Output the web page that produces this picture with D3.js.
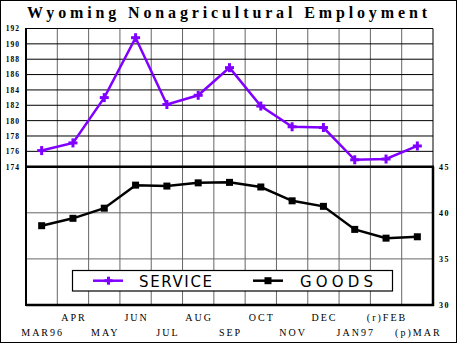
<!DOCTYPE html>
<html><head><meta charset="utf-8">
<script src="https://cdn.jsdelivr.net/npm/d3@7"></script>
<style>body{margin:0;background:#fff}svg{display:block}</style>
</head><body>
<svg id="c" width="457" height="343"></svg>
<script>
const months = ["MAR96","APR","MAY","JUN","JUL","AUG","SEP","OCT","NOV","DEC","JAN97","(r)FEB","(p)MAR"];
const service = [176.1,177.1,183.0,190.8,182.1,183.3,186.9,181.9,179.2,179.1,174.9,175.0,176.7];
const goods = [38.6,39.4,40.5,43.0,42.9,43.25,43.3,42.8,41.3,40.7,38.2,37.25,37.4];
const serviceTicks = [174,176,178,180,182,184,186,188,190,192];
const goodsTicks = [30,35,40,45];
const goodsGrid = [35,40];
const title = "Wyoming Nonagricultural Employment";
const legendLabels = ["SERVICE","GOODS"];

const purple = "#8000ff";
const svg = d3.select("#c");
const L = 26, R = 433, T = 28.5, MID = 166.7, B = 305;

const x = d3.scaleBand().domain(months).range([L, R]);
const cx = d => x(d) + x.bandwidth()/2;
const yS = d3.scaleLinear().domain([174,192]).range([MID, T]);
const yG = d3.scaleLinear().domain([30,45]).range([B, MID]);

// outer frame
svg.append("rect").attr("x",0.5).attr("y",0.5).attr("width",456).attr("height",342)
  .attr("fill","none").attr("stroke","#000").attr("stroke-width",1);

// title
svg.append("text").attr("x",27).attr("y",18).attr("textLength",400).attr("lengthAdjust","spacing")
  .attr("font-family","Liberation Serif").attr("font-weight","bold").attr("font-size",16)
  .text(title);

// vertical grid lines
svg.append("g").selectAll("line").data(months.slice(1)).join("line")
  .attr("x1",d=>x(d)).attr("x2",d=>x(d)).attr("y1",T).attr("y2",B)
  .attr("stroke","#666").attr("stroke-width",1);

// top panel horizontal grid (black)
svg.append("g").selectAll("line").data(serviceTicks.slice(1)).join("line")
  .attr("x1",L).attr("x2",R).attr("y1",d=>yS(d)).attr("y2",d=>yS(d))
  .attr("stroke","#000").attr("stroke-width",1);

// bottom panel horizontal grid (gray)
svg.append("g").selectAll("line").data(goodsGrid).join("line")
  .attr("x1",L).attr("x2",R).attr("y1",d=>yG(d)).attr("y2",d=>yG(d))
  .attr("stroke","#666").attr("stroke-width",1);

// borders
svg.append("line").attr("x1",R).attr("x2",R).attr("y1",T).attr("y2",MID).attr("stroke","#000").attr("stroke-width",1);
svg.append("line").attr("x1",R).attr("x2",R).attr("y1",MID).attr("y2",B+1).attr("stroke","#000").attr("stroke-width",2.5);
svg.append("line").attr("x1",L).attr("x2",L).attr("y1",T-0.5).attr("y2",B+1).attr("stroke","#000").attr("stroke-width",2);
svg.append("line").attr("x1",L).attr("x2",R+1).attr("y1",MID).attr("y2",MID).attr("stroke","#000").attr("stroke-width",2.5);
svg.append("line").attr("x1",L).attr("x2",R+1).attr("y1",B).attr("y2",B).attr("stroke","#000").attr("stroke-width",2.5);

// left axis
const axL = svg.append("g").attr("transform",`translate(${L},0)`)
  .call(d3.axisLeft(yS).tickValues(serviceTicks).tickSize(0).tickPadding(6));
axL.select(".domain").remove();
axL.selectAll("text").attr("font-family","Liberation Serif").attr("font-weight","bold")
  .attr("font-size",7.5).attr("letter-spacing",1).attr("fill","#000");

// right axis
const axR = svg.append("g").attr("transform",`translate(${R},0)`)
  .call(d3.axisRight(yG).tickValues(goodsTicks).tickSize(0).tickPadding(6));
axR.select(".domain").remove();
axR.selectAll("text").attr("font-family","Liberation Serif").attr("font-weight","bold")
  .attr("font-size",8).attr("letter-spacing",1.5).attr("fill","#000");

// x labels (two rows)
svg.append("g").selectAll("text").data(months).join("text")
  .attr("x",d=>cx(d)+1).attr("y",(d,i)=> i%2===1 ? 321 : 335.5)
  .attr("text-anchor","middle").attr("font-family","Liberation Serif").attr("font-size",10)
  .attr("letter-spacing",2).text(d=>d);

// service line
svg.append("path").datum(service).attr("fill","none").attr("stroke",purple).attr("stroke-width",2.5)
  .attr("d", d3.line().x((d,i)=>cx(months[i])).y(d=>yS(d)));
const plus = (g, px, py, s) => {
  g.append("line").attr("x1",px-s).attr("x2",px+s).attr("y1",py).attr("y2",py).attr("stroke",purple).attr("stroke-width",3);
  g.append("line").attr("x1",px).attr("x2",px).attr("y1",py-s).attr("y2",py+s).attr("stroke",purple).attr("stroke-width",3);
};
const sg = svg.append("g");
service.forEach((v,i)=>plus(sg, cx(months[i]), yS(v), 4.5));

// goods line
svg.append("path").datum(goods).attr("fill","none").attr("stroke","#000").attr("stroke-width",2.5)
  .attr("d", d3.line().x((d,i)=>cx(months[i])).y(d=>yG(d)));
svg.append("g").selectAll("rect").data(goods).join("rect")
  .attr("x",(d,i)=>cx(months[i])-3.5).attr("y",d=>yG(d)-3.5).attr("width",7).attr("height",7).attr("fill","#000");

// legend
const lg = svg.append("g");
lg.append("rect").attr("x",72.5).attr("y",270.5).attr("width",320).attr("height",20.5)
  .attr("fill","#fff").attr("stroke","#000").attr("stroke-width",1.2);
const ly = 280.7;
lg.append("line").attr("x1",93).attr("x2",123).attr("y1",ly).attr("y2",ly).attr("stroke",purple).attr("stroke-width",2.5);
plus(lg, 108.5, ly, 4);
lg.append("line").attr("x1",253).attr("x2",283).attr("y1",ly).attr("y2",ly).attr("stroke","#000").attr("stroke-width",2.5);
lg.append("rect").attr("x",268-3.5).attr("y",ly-3.5).attr("width",7).attr("height",7).attr("fill","#000");
lg.append("text").attr("x",139).attr("y",287).attr("textLength",73).attr("lengthAdjust","spacing")
  .attr("font-family","DejaVu Sans").attr("font-size",15).text(legendLabels[0]);
lg.append("text").attr("x",300).attr("y",287).attr("textLength",73).attr("lengthAdjust","spacing")
  .attr("font-family","DejaVu Sans").attr("font-size",15).text(legendLabels[1]);
</script>
</body></html>
